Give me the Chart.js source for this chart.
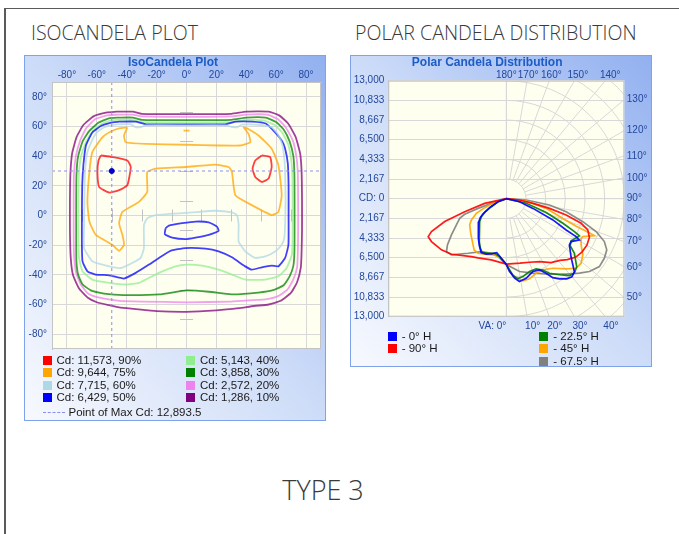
<!DOCTYPE html>
<html>
<head>
<meta charset="utf-8">
<script src="https://cdn.jsdelivr.net/npm/chart.js@4.4.1/dist/chart.umd.min.js"></script>
<style>
  html, body { margin: 0; padding: 0; background: #fff; }
  body { width: 679px; height: 534px; position: relative; overflow: hidden; font-family: "Liberation Sans", Arial, sans-serif; }
  .frame-top { position: absolute; left: 4px; top: 8px; right: 0; height: 1px; background: #5a5a5a; }
  .frame-left { position: absolute; left: 4px; top: 8px; width: 2px; bottom: 0; background: #5a5a5a; }
  .heading { position: absolute; font-family: "Open Sans", sans-serif; font-weight: 300; font-size: 19.6px; line-height: 19px; color: #3a3a3a; white-space: nowrap; }
  .type { font-size: 27px; line-height: 27px; transform: translateX(-50%); }
  .panel { position: absolute; box-sizing: border-box; border: 1px solid #7fa3ea;
           background: linear-gradient(to top right, #f7f9fe 0%, #cddcf8 50%, #92b0f0 100%); }
  canvas { position: absolute; }
  .item { position: absolute; white-space: nowrap; font-size: 11.5px; line-height: 14px; color: #1a1a1a; }
  .swatch { display: inline-block; width: 9px; height: 9px; vertical-align: -1px; margin-right: 5px; }
  .dash { display: inline-block; width: 22px; border-top: 1px dashed #8c8cf0; vertical-align: 3px; margin-right: 4px; }
</style>
</head>
<body>
<div class="frame-top"></div>
<div class="frame-left"></div>
<div class="heading" style="left:31px; top:23px;">ISOCANDELA PLOT</div>
<div class="heading" style="left:355px; top:23px;">POLAR CANDELA DISTRIBUTION</div>
<div class="heading type" style="left:323px; top:476px;">TYPE 3</div>

<div class="panel" style="left:24px; top:55px; width:302px; height:366px;"></div>
<div class="panel" style="left:350px; top:55px; width:302px; height:312px;"></div>
<canvas id="iso" width="302" height="366" style="left:24px; top:55px;"></canvas>
<canvas id="polar" width="302" height="312" style="left:350px; top:55px;"></canvas>
<div id="legends"></div>

<script>
// ---------- IsoCandela plot data: [horizontal angle, vertical angle] in degrees ----------
const isoTicks = [-80, -60, -40, -20, 0, 20, 40, 60, 80];
const levelPct = [90, 75, 60, 50, 40, 30, 20, 10];
const levelCd = [11573, 9644, 7715, 6429, 5143, 3858, 2572, 1286];
const levelColors = ['#ff0000', '#ffa500', '#add8e6', '#0000ff', '#90ee90', '#008000', '#ee82ee', '#800080'];
const maxCd = 12893.5;
const maxPoint = [-50, 30];

const c90a = [[-57.3,40.5],[-49.6,39.4],[-39.6,37.1],[-37.3,32.7],[-39.6,20.4],[-45.1,17.1],[-51.8,15.5],[-58.5,19.3],[-59.6,29.3],[-58.9,37.1]];
const c90b = [[50.4,40.5],[56,39.4],[57,32.7],[54.9,24.9],[50.4,22.6],[46,26],[44.2,31.6],[46,37.1]];
const c75a = [[-39.6,59.4],[-41.8,53.9],[-40.7,49.4],[-27.3,48.3],[-0.7,47.7],[21.5,47.2],[36,47.2],[42.7,49.4],[41.5,55],[38.2,59.4],
  [41,58.5],[48.2,53.9],[57,45],[61.5,33.8],[63.7,13.7],[61.5,2.5],[57,0.3],[43.7,7],[32.7,13.7],[30.4,29.3],[28.2,32.7],[19.3,34.3],
  [-0.7,32.7],[-20.7,31.6],[-26.3,29.3],[-26.3,15.9],[-31.8,9.2],[-42.9,2.5],[-45.1,-5.2],[-42.9,-13],[-41.8,-19.7],[-45.1,-23.8],
  [-49.6,-19.7],[-60.7,-13],[-65,-4.1],[-66.3,9],[-65,29.3],[-63,42.7],[-56.3,52.7],[-50.7,56.6],[-45.1,58.8]];
const c75b = [[-2,57.2],[2,57.2]];
const c60 = [[-45,61.5],[-37,61.5],[-34,59.4],[-30,59.8],[-27,60.8],[0,60.8],[26,60.8],[30,59.8],[34,59.4],[37,61.3],[50,61],[57,59.5],
  [61,55],[64,48],[65.5,38],[66,28],[66.3,10],[66,-5],[65.5,-15],[63.7,-19.7],[59.3,-24.2],[52.7,-27.6],[46,-28.6],[39.3,-24.2],
  [34.9,-17.5],[34.9,-6.4],[33.7,0.3],[30.4,2.1],[19.3,3.2],[3.7,2.1],[-20.7,0.3],[-26.3,-1.9],[-28.5,-6.4],[-28.5,-22],[-30.7,-28.6],
  [-36.3,-32],[-44,-35.4],[-51.8,-34.3],[-63,-30.9],[-68.5,-22],[-68.5,-5],[-68.3,10],[-68,28],[-66.5,42],[-63.5,50],[-60,56],[-55,59.5],[-50,61]];
const c50a = [[-45,63.3],[-34,63.3],[-27,61.5],[0,61.5],[26,61.5],[33,63.3],[44,63.3],[53,62],[59.3,56],[64,50],[66,45],[67.8,35],
  [68.3,20],[68.3,0],[68.2,-19.7],[66,-28.6],[61.5,-34.3],[57,-33.8],[50.4,-34.9],[43.7,-36.5],[39.3,-34.3],[30.4,-28.2],[21.5,-24.2],
  [12.7,-22.4],[-0.7,-22],[-10.7,-23.8],[-18.5,-28.6],[-25.1,-33.1],[-34,-38.7],[-41.8,-42.5],[-51.8,-40.3],[-60.7,-39.8],[-66.3,-37.6],
  [-69.6,-30.9],[-70,-20],[-70,0],[-69.8,20],[-69,33.8],[-67.3,47.2],[-63,56],[-57,60.5],[-51,62.5]];
const c50b = [[-14,-8.6],[-11.8,-6.8],[-2.9,-5.2],[6,-4.1],[14.9,-4.6],[20.4,-7.5],[21.5,-10.4],[14.9,-13],[6,-14.9],[-0.7,-15.9],[-9.6,-14.9],[-14.5,-12.6]];
const c40 = [[-45,64.5],[-36,64.5],[-30,63],[0,62.8],[30,63],[40,64.5],[52,64],[59,61],[64,56],[68,48],[70,38],[70.8,28],[71,10],
  [71,-10],[70.6,-26],[67,-35.4],[61.5,-41],[52.7,-43.2],[39.3,-43.2],[30.4,-39.8],[21.5,-36.5],[10.4,-33.8],[0,-33.1],[-7.3,-34.3],
  [-18.5,-38.7],[-31.8,-45.4],[-40.7,-46.5],[-51.8,-45.4],[-63,-43.2],[-69.6,-37.6],[-72,-28],[-72.3,-10],[-72.3,10],[-72,28],
  [-70.5,40],[-67,50],[-62.5,57],[-57,61.5],[-51,64]];
const c30 = [[-45,66],[-36,66],[-30,64.5],[0,64.3],[30,64.5],[40,66],[53,66],[60,63],[65,58],[69,50],[71.5,40],[72.2,28],[72.3,10],
  [72.3,-10],[72.2,-25],[71.5,-34],[69,-41],[65,-47],[59,-50],[48,-52],[30,-53.2],[15,-51.4],[0,-50.5],[-18,-53.2],[-40,-53.7],
  [-52,-53],[-58.5,-52],[-64,-50.5],[-69.5,-46.5],[-72.5,-40],[-73.7,-30],[-73.8,-10],[-73.8,10],[-73.6,28],[-72.5,40],[-69.5,50],
  [-65,57],[-59,62.5],[-52,65.5]];
const c20 = [[-46,68],[-36,68],[-30,66.8],[0,66.5],[30,66.8],[40,68],[54,68],[61,65],[66,60],[71,51],[73.5,40],[74.5,28],[74.7,10],
  [74.7,-10],[74.5,-25],[74,-35],[71.5,-43],[67.5,-50],[61,-54.5],[53,-56.5],[45,-57],[30,-58],[0,-58.5],[-30,-58],[-45,-57.5],
  [-52,-56.5],[-60,-55],[-66,-52.5],[-71,-46],[-74,-38],[-75.3,-26],[-75.5,-10],[-75.5,10],[-75.3,28],[-74,40],[-71,51],[-67,59],
  [-61,65],[-53,67.5]];
const c10 = [[-47,70],[-36,70],[-30,68.5],[0,68.3],[30,68.5],[40,70],[55,70],[62,67.5],[68,62],[73,53],[76,42],[77,30],[77.3,10],
  [77.3,-10],[77,-25],[76.5,-35],[74,-45],[70,-52],[63,-57.5],[55,-60],[45,-61],[35,-62.5],[20,-64],[0,-65],[-20,-64.5],[-35,-63],
  [-45,-62],[-52,-60.5],[-60,-58.5],[-66,-55.5],[-72,-49],[-76,-40],[-77.5,-28],[-78,-10],[-78,10],[-77.7,28],[-76.5,42],[-73.5,53],
  [-69,61],[-62,67],[-53,69.5]];
const contours = [[c90a, c90b], [c75a, c75b], [c60], [c50a, c50b], [c40], [c30], [c20], [c10]];

// ---------- Polar candela data: [vertical angle, candela] per half plane ----------
const cdMax = 13000;
const cdStep = cdMax / 6;
const vaLabels = [0, 10, 20, 30, 40, 50, 60, 70, 80, 90, 100, 110, 120, 130, 140, 150, 160, 170, 180];
const planeNames = ['0° H', '90° H', '22.5° H', '45° H', '67.5° H'];
const planeColors = ['#0000ff', '#ff0000', '#008000', '#ffa500', '#808080'];

const h0 = [[0,7250],[2.5,8000],[6,8800],[9,9240],[14,9035],[20,8540],[25,8650],[28,9310],[30.5,10090],[33.5,10600],[37,11050],
  [40,11250],[43,11000],[48,9600],[53.8,8615],[56.5,8560],[60.6,9240],[61.5,8750],[62.4,7440],[65.5,5640],[70,3120],[77,1500],[90,0]];
const h180 = [[0,7250],[5,6550],[10,6050],[15,6300],[20,6500],[25,6550],[30,5950],[35,5300],[40,4800],[45,4400],[50,3950],
  [54,3550],[57,3050],[62,2050],[70,950],[90,0]];
const h90 = [[0,7200],[12,7260],[20,7450],[28,7850],[35,8600],[41,9000],[45,9500],[50,10000],[55,10200],[60,10250],[65,10100],
  [69,9615],[71.8,8680],[74.8,6830],[77.4,4880],[80,2980],[84.4,1470],[90,0]];
const h270 = [[0,7200],[13.8,6935],[25.6,7230],[31.1,7445],[44.6,8600],[51.7,9100],[60.2,9500],[64.1,9565],[66.3,9005],
  [69.6,7235],[72.7,4800],[77.8,2440],[90,0]];
const h22 = [[0,7250],[5,8500],[8.3,8900],[12,8770],[17.7,8420],[23,8400],[27,8815],[30,9485],[35,10230],[39.4,10955],
  [42.4,11120],[46,10780],[51.3,9615],[53.7,8725],[57,8525],[63,9040],[64.2,8340],[66.5,6800],[71,4650],[77,2250],[90,0]];
const h202 = [[0,7250],[6.6,6420],[12,6145],[18.5,6340],[24.3,6475],[27.6,6165],[31.8,5560],[36.9,4990],[42.6,4430],
  [49.3,3870],[54.2,3385],[57.7,2820],[61.9,1870],[70,970],[90,0]];
const h45 = [[0,7250],[2.6,8030],[7.2,8825],[11.5,9230],[16.2,9190],[21.9,8845],[27.2,8815],[33.8,9220],[40.5,10160],
  [45.1,10855],[49.2,10885],[53.7,10455],[58.3,9690],[62.1,9325],[63.6,9405],[67.2,10520],[67.8,9750],[68.5,8285],[70.8,6600],
  [76.4,4520],[83.4,2210],[90,0]];
const h225 = [[0,7250],[4.8,6580],[11.7,6320],[21.3,6570],[27.4,6770],[32.2,6660],[38.3,6025],[45.8,5470],[54.4,4965],
  [58.7,4500],[63.9,3670],[67.5,2580],[72.5,1350],[90,0]];
const h67 = [[0,7250],[10.3,8155],[19.7,8720],[29.8,9580],[38.4,10610],[44.5,11500],[48.8,12175],[53.9,12690],[58.7,12640],
  [63,12420],[66.4,11790],[69.9,10540],[73.3,8800],[77.8,6750],[81.7,4810],[86.3,2200],[90,0]];
const h247 = [[0,7250],[8.1,6440],[15.3,6250],[25.3,6440],[35,7340],[44.3,8650],[48.5,8800],[51.9,8240],[56.6,7240],
  [62.3,6210],[67.1,5570],[69.4,4900],[71.1,3290],[72.6,1730],[90,0]];
const planes = [[h0, h180], [h90, h270], [h22, h202], [h45, h225], [h67, h247]];

// ---------- helpers ----------
Chart.defaults.font.family = '"Liberation Sans", Arial, sans-serif';
const tickColor = '#23479c';
const titleColor = '#1d5cc5';
const gridColor = '#d8d8d8';

function rgba(hex, a) {
  const n = parseInt(hex.slice(1), 16);
  return 'rgba(' + (n >> 16) + ',' + ((n >> 8) & 255) + ',' + (n & 255) + ',' + a + ')';
}

const plotFrame = {
  id: 'plotFrame',
  beforeDraw(chart) {
    const { ctx, chartArea: a } = chart;
    ctx.save();
    ctx.fillStyle = '#fffff0';
    ctx.fillRect(a.left, a.top, a.width, a.height);
    ctx.restore();
  },
  afterDraw(chart) {
    const { ctx, chartArea: a } = chart;
    ctx.save();
    ctx.strokeStyle = '#c4c4c4';
    ctx.strokeRect(a.left + 0.5, a.top + 0.5, a.width - 1, a.height - 1);
    ctx.restore();
  }
};

// small minor tick marks along the centre axes of the iso plot
const isoMinor = {
  id: 'isoMinor',
  beforeDatasetsDraw(chart) {
    const { ctx, scales: { x, y } } = chart;
    const x0 = x.getPixelForValue(0), y0 = y.getPixelForValue(0);
    ctx.save();
    ctx.strokeStyle = '#c2c2c2';
    ctx.lineWidth = 1;
    ctx.beginPath();
    for (let v = -70; v <= 70; v += 20) {
      const py = Math.round(y.getPixelForValue(v)) + 0.5;
      ctx.moveTo(x0 - 6.5, py); ctx.lineTo(x0 + 6.5, py);
      const px = Math.round(x.getPixelForValue(v)) + 0.5;
      ctx.moveTo(px, y0 - 6); ctx.lineTo(px, y0 + 6);
    }
    ctx.stroke();
    ctx.restore();
  }
};

// ---------- IsoCandela chart ----------
const isoSets = [];
contours.forEach((pieces, i) => {
  pieces.forEach(piece => {
    const pts = piece.map(([h, v]) => ({ x: h, y: v }));
    if (piece.length > 2) pts.push(pts[0]);
    isoSets.push({ data: pts, showLine: true, borderColor: rgba(levelColors[i], 0.75), borderWidth: 1.8,
                   pointRadius: 0, tension: 0.15, order: i });
  });
});
isoSets.push({ data: [{ x: maxPoint[0], y: -90 }, { x: maxPoint[0], y: 90 }], showLine: true, borderColor: '#8c8cf0',
               borderWidth: 1, borderDash: [3, 3], pointRadius: 0, order: -1 });
isoSets.push({ data: [{ x: -90, y: maxPoint[1] }, { x: 90, y: maxPoint[1] }], showLine: true, borderColor: '#8c8cf0',
               borderWidth: 1, borderDash: [3, 3], pointRadius: 0, order: -1 });
isoSets.push({ data: [{ x: maxPoint[0], y: maxPoint[1] }], pointRadius: 2.5, backgroundColor: '#0000c8',
               borderColor: '#0000c8', order: -2 });

function isoAxis(position, fit) {
  return {
    type: 'linear', position, min: -90, max: 90,
    afterBuildTicks: s => { s.ticks = isoTicks.map(v => ({ value: v })); },
    afterFit: fit,
    grid: { color: gridColor, drawTicks: false },
    border: { color: '#c4c4c4' },
    ticks: { color: tickColor, font: { size: 10 }, padding: position === 'top' ? 0.5 : 5, autoSkip: false, maxRotation: 0,
             callback: v => v + '°' }
  };
}

new Chart(document.getElementById('iso'), {
  type: 'scatter',
  data: { datasets: isoSets },
  options: {
    responsive: false, animation: false, events: [],
    layout: { padding: { left: 0, right: 4, top: 0, bottom: 72 } },
    plugins: {
      legend: { display: false }, tooltip: { enabled: false },
      title: { display: true, text: 'IsoCandela Plot', color: titleColor, font: { size: 12, weight: 'bold', lineHeight: 1 },
               padding: { top: 2, bottom: 0 } }
    },
    scales: {
      x: isoAxis('top', s => { s.height = 13; }),
      y: isoAxis('left', s => { s.width = 28; })
    }
  },
  plugins: [plotFrame, isoMinor]
});

// ---------- Polar candela chart ----------
function planePoints(front, back) {
  const pts = [];
  for (let i = back.length - 1; i >= 0; i--) {
    const t = back[i][0] * Math.PI / 180;
    pts.push({ x: -back[i][1] * Math.sin(t), y: -back[i][1] * Math.cos(t) });
  }
  front.forEach(([va, cd]) => {
    const t = va * Math.PI / 180;
    pts.push({ x: cd * Math.sin(t), y: -cd * Math.cos(t) });
  });
  return pts;
}

const polarSets = planes.map(([front, back], i) => ({
  data: planePoints(front, back), showLine: true, borderColor: rgba(planeColors[i], 0.9), borderWidth: 1.7,
  pointRadius: 0, tension: 0
}));

const cdTicks = [];
for (let k = -6; k <= 6; k++) cdTicks.push(k * cdStep);

const polarGrid = {
  id: 'polarGrid',
  beforeDatasetsDraw(chart) {
    const { ctx, chartArea: a, scales: { x, y } } = chart;
    const cx = x.getPixelForValue(0), cy = y.getPixelForValue(0);
    const unit = x.getPixelForValue(cdStep) - cx;
    ctx.save();
    ctx.beginPath();
    ctx.rect(a.left, a.top, a.width, a.height);
    ctx.clip();
    ctx.strokeStyle = gridColor;
    ctx.lineWidth = 1;
    for (let k = 1; k <= 9; k++) {
      ctx.beginPath();
      ctx.arc(cx, cy, k * unit, -Math.PI / 2, Math.PI / 2);
      ctx.stroke();
    }
    ctx.beginPath();
    vaLabels.forEach(va => {
      const t = va * Math.PI / 180;
      ctx.moveTo(cx + unit * Math.sin(t), cy + unit * Math.cos(t));
      ctx.lineTo(cx + 20 * unit * Math.sin(t), cy + 20 * unit * Math.cos(t));
    });
    ctx.moveTo(Math.round(cx) + 0.5, a.top);
    ctx.lineTo(Math.round(cx) + 0.5, a.bottom);
    ctx.stroke();
    ctx.restore();
  },
  afterDraw(chart) {
    const { ctx, chartArea: a, scales: { x, y } } = chart;
    const cx = x.getPixelForValue(0), cy = y.getPixelForValue(0);
    ctx.save();
    ctx.fillStyle = tickColor;
    ctx.font = '10px "Liberation Sans", Arial, sans-serif';
    ctx.textBaseline = 'middle';
    vaLabels.forEach(va => {
      const t = va * Math.PI / 180;
      const s = Math.sin(t), c = Math.cos(t);
      let best = Infinity, edge = '';
      if (c > 1e-6) { const d = (a.bottom - cy) / c; if (d < best) { best = d; edge = 'bottom'; } }
      if (c < -1e-6) { const d = (a.top - cy) / c; if (d < best) { best = d; edge = 'top'; } }
      if (s > 1e-6) { const d = (a.right - cx) / s; if (d < best) { best = d; edge = 'right'; } }
      const hx = cx + best * s, hy = cy + best * c;
      if (edge === 'bottom') {
        if (va === 0) { ctx.textAlign = 'right'; ctx.fillText('VA: ' + va + '°', hx, a.bottom + 9.5); }
        else { ctx.textAlign = 'left'; ctx.fillText(va + '°', hx - 2, a.bottom + 9.5); }
      } else if (edge === 'top') {
        ctx.textAlign = 'center'; ctx.fillText(va + '°', hx + (hx - cx) * 0.05, a.top - 5.5);
      } else {
        ctx.textAlign = 'left'; ctx.fillText(va + '°', a.right + 2.5, hy);
      }
    });
    ctx.restore();
  }
};

new Chart(document.getElementById('polar'), {
  type: 'scatter',
  data: { datasets: polarSets },
  options: {
    responsive: false, animation: false, events: [],
    layout: { padding: { left: 0, right: 27.7, top: 0, bottom: 50.3 } },
    plugins: {
      legend: { display: false }, tooltip: { enabled: false },
      title: { display: true, text: 'Polar Candela Distribution', color: titleColor, font: { size: 12, weight: 'bold', lineHeight: 1 },
               padding: { top: 2, bottom: 11.7 } }
    },
    scales: {
      x: { type: 'linear', display: false, min: -cdMax, max: cdMax },
      y: {
        type: 'linear', min: -cdMax, max: cdMax,
        afterBuildTicks: s => { s.ticks = cdTicks.map(v => ({ value: v })); },
        afterFit: s => { s.width = 38.3; },
        grid: { color: gridColor, drawTicks: false },
        border: { color: '#c4c4c4' },
        ticks: { color: tickColor, font: { size: 10 }, padding: 4, autoSkip: false,
                 callback: v => Math.abs(v) < 1 ? 'CD: 0' : Math.round(Math.abs(v)).toLocaleString('en-US') }
      }
    }
  },
  plugins: [plotFrame, polarGrid]
});

// ---------- legends (real text, built from the series arrays) ----------
const legendBox = document.getElementById('legends');
function addItem(left, centerY, html) {
  const d = document.createElement('div');
  d.className = 'item';
  d.style.left = left + 'px';
  d.style.top = (centerY - 7) + 'px';
  d.innerHTML = html;
  legendBox.appendChild(d);
}
levelPct.forEach((p, i) => {
  const col = i < 4 ? 0 : 1, row = i % 4;
  addItem(col ? 186 : 42.5, 360 + row * 12.25,
    '<span class="swatch" style="background:' + levelColors[i] + '"></span>Cd: ' +
    levelCd[i].toLocaleString('en-US') + ', ' + p + '%');
});
addItem(42.5, 411.5, '<span class="dash"></span>Point of Max Cd: ' + maxCd.toLocaleString('en-US', { minimumFractionDigits: 1 }));

planeNames.forEach((name, i) => {
  const col = i < 2 ? 0 : 1, row = col ? i - 2 : i;
  addItem(col ? 539.3 : 387.7, 336 + row * 12.3,
    '<span class="swatch" style="background:' + planeColors[i] + '"></span>- ' + name);
});
</script>
</body>
</html>
